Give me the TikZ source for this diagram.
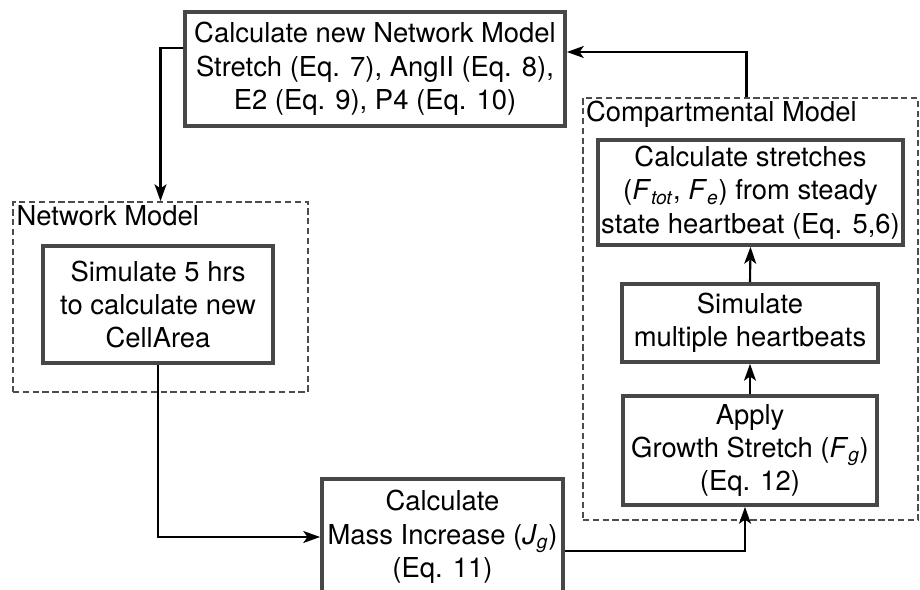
\documentclass[tikz,border=0pt]{standalone}
\usepackage{fontspec}
\setmainfont{TeX Gyre Heros}
\usepackage{tikz}
\usetikzlibrary{arrows.meta,positioning}

\newcommand{\sub}[2]{\textit{#1}\textsubscript{\textit{#2}}}

\tikzset{
  stepbox/.style={draw=black!72, line width=2.6pt, align=center, inner sep=0pt},
  modelbox/.style={draw=black!70, dash pattern=on 4.5pt off 2.5pt, inner sep=0pt},
  modellabel/.style={anchor=north west, inner sep=3pt},
  flow/.style={-{Stealth[length=12pt,width=8.5pt,inset=3pt]}, line width=1.5pt}
}

\begin{document}
\begin{tikzpicture}[x=0.025cm, y=-0.025cm,
  every node/.style={font=\fontsize{19.5}{23.8}\selectfont}]
\useasboundingbox (0,0) rectangle (920,590);
\clip (0,0) rectangle (920,590);

% Model containers
\node (netmodel) [modelbox, line width=1.2pt, minimum width=7.375cm, minimum height=4.75cm]
    at (160.5,297) {};
\node (netlbl) [modellabel] at (netmodel.north west) {Network Model};
\node (compmodel) [modelbox, line width=2pt, minimum width=8.375cm, minimum height=10.55cm]
    at (750.5,309) {};
\node (complbl) [modellabel] at (compmodel.north west) {Compartmental Model};

% Nodes
\node (calcnet) [stepbox, minimum width=9.5cm, minimum height=2.85cm] at (375,69)
    {Calculate new Network Model\\ Stretch (Eq. 7), AngII (Eq. 8),\\ E2 (Eq. 9), P4 (Eq. 10)};
\node (simhrs) [stepbox, minimum width=5.75cm, minimum height=2.925cm] at (158,304.5)
    {Simulate 5 hrs\\ to calculate new\\ CellArea};
\node (mass) [stepbox, minimum width=6.025cm, minimum height=2.9cm] at (442.5,537)
    {Calculate\\ Mass Increase (\sub{J}{g})\\ (Eq. 11)};
\node (calcstr) [stepbox, minimum width=7.625cm, minimum height=2.625cm] at (750.5,192.5)
    {Calculate stretches\\ (\sub{F}{tot}, \sub{F}{e}) from steady\\ state heartbeat (Eq. 5,6)};
\node (simmult) [stepbox, minimum width=6.4cm, minimum height=1.95cm] at (750,323)
    {Simulate\\ multiple heartbeats};
\node (apply) [stepbox, minimum width=6.35cm, minimum height=2.725cm] at (750,450.5)
    {Apply\\ Growth Stretch (\sub{F}{g})\\ (Eq. 12)};

% Arrows
\draw[flow] ([yshift=0.525cm]calcnet.west) -| (netmodel.north);
\draw[flow] (simhrs.south) |- (mass.west);
\draw[flow] ([yshift=-0.35cm]mass.east) -| ([xshift=-0.125cm]apply.south);
\draw[flow] (apply.north) -- (simmult.south);
\draw[flow] (simmult.north) -- (calcstr.south);
\draw[flow] ([xshift=-0.1cm]compmodel.north) |- ([yshift=0.425cm]calcnet.east);

\end{tikzpicture}
\end{document}
